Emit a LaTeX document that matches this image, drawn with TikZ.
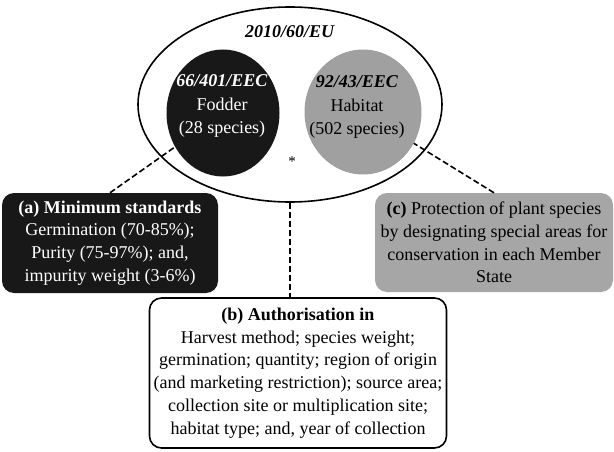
\documentclass[tikz,border=0pt]{standalone}
\usepackage{fontspec}
\setmainfont{Liberation Serif}
\usetikzlibrary{shapes.geometric}
\definecolor{discgray}{RGB}{160,160,160}
\definecolor{boxgray}{RGB}{166,166,166}
\definecolor{boxblack}{RGB}{24,24,24}

\begin{document}
\begin{tikzpicture}[x=1pt, y=-1pt,
  oval/.style={draw, ellipse, line width=1.6pt, inner sep=0pt},
  disc/.style={ellipse, inner sep=0pt},
  lbl/.style={align=center, inner sep=0pt, font=\fontsize{18}{23.5}\selectfont},
  rbox/.style={rounded corners=12pt, inner sep=0pt, align=center,
               font=\fontsize{18}{22.8}\selectfont},
  link/.style={line width=1.6pt, dash pattern=on 6pt off 3pt}]
\useasboundingbox (0,0) rectangle (614,452);

% the three directives
\node[oval, minimum width=304pt, minimum height=195pt] (eu) at (290,104.5) {};
\node[lbl] (eutxt) at (290,32) {\textbf{\textit{2010/60/EU}}};

\node[disc, fill=boxblack, minimum width=113pt, minimum height=127pt] (fodder) at (223,113) {};
\node[lbl, text=white] (foddertxt) at (222,106)
  {\textbf{\textit{66/401/EEC}}\\Fodder\\(28 species)};

\node[disc, fill=discgray, minimum width=117pt, minimum height=125pt] (habitat) at (363,112) {};
\node[lbl] (habitattxt) at (357,107)
  {\textbf{\textit{92/43/EEC}}\\Habitat\\(502 species)};

\node[lbl, font=\fontsize{15}{15}\selectfont] (star) at (292,162) {*};

% the three boxes
\node[rbox, fill=boxblack, text=white, minimum width=216pt, minimum height=100pt] (minstd) at (110,243)
  {\textbf{(a) Minimum standards}\\Germination (70-85\%);\\Purity (75-97\%); and,\\impurity weight (3-6\%)};

\node[rbox, fill=boxgray, minimum width=238pt, minimum height=99pt] (protect) at (494,242.5)
  {\textbf{(c)} Protection of plant species\\by designating special areas for\\conservation in each Member\\State};

\node[rbox, draw, line width=1.6pt, fill=white, minimum width=297pt, minimum height=150pt] (auth) at (298,373)
  {\textbf{(b) Authorisation in}\\Harvest method; species weight;\\germination; quantity; region of origin\\(and marketing restriction); source area;\\collection site or multiplication site;\\habitat type; and, year of collection};

% dashed links
\draw[link] (minstd.north) -- (fodder);
\draw[link] (protect.north) -- (habitat);
\draw[link] (eu.south) -- (eu.south |- auth.north);
\end{tikzpicture}
\end{document}
